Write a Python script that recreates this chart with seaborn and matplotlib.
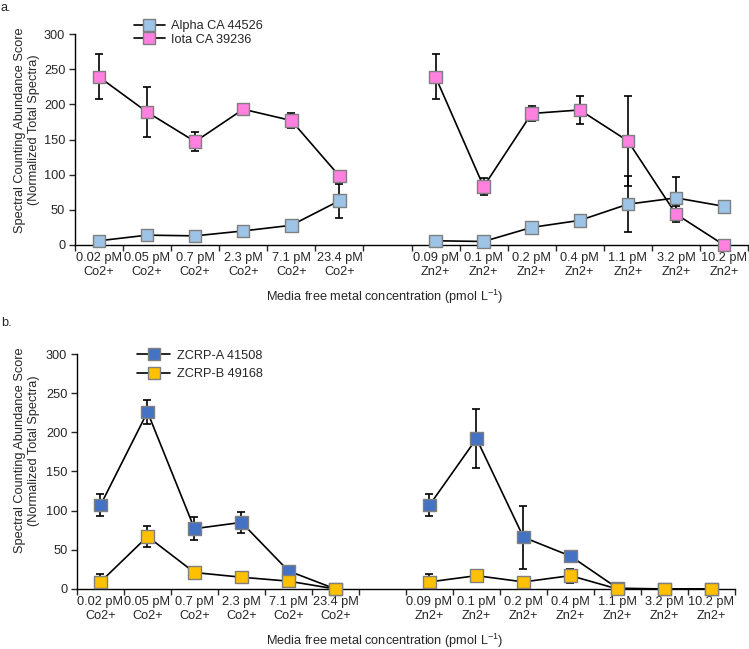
import numpy as np
import pandas as pd
import matplotlib
matplotlib.use('Agg')
import matplotlib.pyplot as plt
from matplotlib.lines import Line2D
import seaborn as sns

# categories (Co group, then Zn group; one empty slot between them)
co_labels = ['0.02 pM\nCo2+', '0.05 pM\nCo2+', '0.7 pM\nCo2+', '2.3 pM\nCo2+',
             '7.1 pM\nCo2+', '23.4 pM\nCo2+']
zn_labels = ['0.09 pM\nZn2+', '0.1 pM\nZn2+', '0.2 pM\nZn2+', '0.4 pM\nZn2+',
             '1.1 pM\nZn2+', '3.2 pM\nZn2+', '10.2 pM\nZn2+']

# panel a
alpha_co = [6, 14, 13, 20, 28, 63]
alpha_co_err = [0, 0, 0, 0, 0, 24]
alpha_zn = [6, 5, 25, 35, 58, 67, 55]
alpha_zn_err = [0, 0, 0, 4, 40, 29, 0]
iota_co = [239, 189, 147, 193, 177, 98]
iota_co_err = [32, 35, 13, 2, 10, 0]
iota_zn = [239, 83, 187, 192, 148, 44, 0]
iota_zn_err = [32, 12, 10, 20, 64, 11, 0]

# panel b
zcrpa_co = [107, 226, 77, 85, 23, 0]
zcrpa_co_err = [14, 15, 15, 13, 5, 0]
zcrpa_zn = [107, 192, 66, 42, 1, 0, 0]
zcrpa_zn_err = [14, 38, 40, 2, 0, 0, 0]
zcrpb_co = [9, 67, 21, 15, 10, 0]
zcrpb_co_err = [10, 14, 3, 0, 5, 0]
zcrpb_zn = [9, 17, 9, 17, 0, 0, 0]
zcrpb_zn_err = [10, 3, 5, 9, 0, 0, 0]

FS = 9.2

co_pos = np.arange(6) + 0.5
zn_pos = np.arange(7, 14) + 0.5
all_pos = np.concatenate([co_pos, zn_pos])
all_labels = co_labels + zn_labels


def build_df(name, co, zn, co_err, zn_err):
    return pd.DataFrame({
        'pos': all_pos,
        'val': co + zn,
        'err': co_err + zn_err,
        'metal': ['Co'] * 6 + ['Zn'] * 7,
        'protein': name,
    })


def draw_panel(ax, frames, colors):
    df = pd.concat(frames, ignore_index=True)
    for name, col in colors.items():
        d = df[df['protein'] == name]
        sns.lineplot(data=d, x='pos', y='val', units='metal', estimator=None,
                     color='black', lw=1.2, ax=ax, zorder=2)
        e = d[d['err'] > 0]
        ax.errorbar(e['pos'], e['val'], yerr=e['err'], fmt='none', ecolor='black',
                    elinewidth=1.2, capsize=2.8, capthick=1.2, zorder=3)
    sns.scatterplot(data=df, x='pos', y='val', hue='protein', palette=colors,
                    marker='s', s=80, edgecolor='#7f7f7f', linewidth=1,
                    legend=False, ax=ax, zorder=4, clip_on=False)
    ax.set_xlim(0, 14)
    ax.set_ylim(0, 300)
    ax.set_yticks(range(0, 301, 50))
    ax.set_xticks(np.arange(15))
    ax.set_xticklabels([])
    ax.set_xticks(all_pos, minor=True)
    ax.set_xticklabels(all_labels, minor=True, linespacing=1.25, fontsize=FS)
    ax.tick_params(axis='x', which='minor', length=0, pad=5)
    ax.tick_params(axis='x', which='major', length=4, width=1, direction='out')
    ax.tick_params(axis='y', length=4, width=1, direction='out', pad=3, labelsize=FS)
    ax.set_xlabel('')
    ax.set_ylabel('Spectral Counting Abundance Score\n(Normalized Total Spectra)',
                  linespacing=1.2, fontsize=FS)
    for s in ['top', 'right']:
        ax.spines[s].set_visible(False)
    for s in ['left', 'bottom']:
        ax.spines[s].set_linewidth(1)
        ax.spines[s].set_color('black')
    handles = [Line2D([0], [0], color='black', lw=1.2, marker='s', markersize=8.5,
                      markerfacecolor=c, markeredgecolor='#7f7f7f') for c in colors.values()]
    return handles


sns.set_style('ticks')
plt.rcParams['font.family'] = ['Liberation Sans', 'DejaVu Sans']
plt.rcParams['font.size'] = FS
plt.rcParams['mathtext.fontset'] = 'custom'
plt.rcParams['mathtext.rm'] = 'Liberation Sans'

fig = plt.figure(figsize=(7.49, 6.49), dpi=100)
ax1 = fig.add_axes([0.1001, 0.6225, 0.8986, 0.3251])
ax2 = fig.add_axes([0.1028, 0.0925, 0.8785, 0.362])

cols_a = {'Alpha CA 44526': '#9dc3e6', 'Iota CA 39236': '#ff80df'}
h1 = draw_panel(ax1, [build_df('Alpha CA 44526', alpha_co, alpha_zn, alpha_co_err, alpha_zn_err),
                      build_df('Iota CA 39236', iota_co, iota_zn, iota_co_err, iota_zn_err)], cols_a)
cols_b = {'ZCRP-A 41508': '#4472c4', 'ZCRP-B 49168': '#ffc000'}
h2 = draw_panel(ax2, [build_df('ZCRP-A 41508', zcrpa_co, zcrpa_zn, zcrpa_co_err, zcrpa_zn_err),
                      build_df('ZCRP-B 49168', zcrpb_co, zcrpb_zn, zcrpb_co_err, zcrpb_zn_err)], cols_b)

ax1.yaxis.set_label_coords(-0.052, 0.545)
ax2.yaxis.set_label_coords(-0.056, 0.59)

fig.legend(h1, list(cols_a.keys()), loc='upper left', bbox_to_anchor=(0.172, 0.977),
           frameon=False, handlelength=2.4, handletextpad=0.5, labelspacing=0.15,
           borderaxespad=0, fontsize=FS)
fig.legend(h2, list(cols_b.keys()), loc='upper left', bbox_to_anchor=(0.176, 0.469),
           frameon=False, handlelength=2.6, handletextpad=0.5, labelspacing=0.5,
           borderaxespad=0, fontsize=FS)

fig.text(0.514, 0.542, 'Media free metal concentration (pmol L$^{-1}$)', ha='center', va='center')
fig.text(0.514, 0.012, 'Media free metal concentration (pmol L$^{-1}$)', ha='center', va='center')
fig.text(0.001, 0.988, 'a.', ha='left', va='center')
fig.text(0.001, 0.503, 'b.', ha='left', va='center')

fig.savefig('out.png', dpi=100)
